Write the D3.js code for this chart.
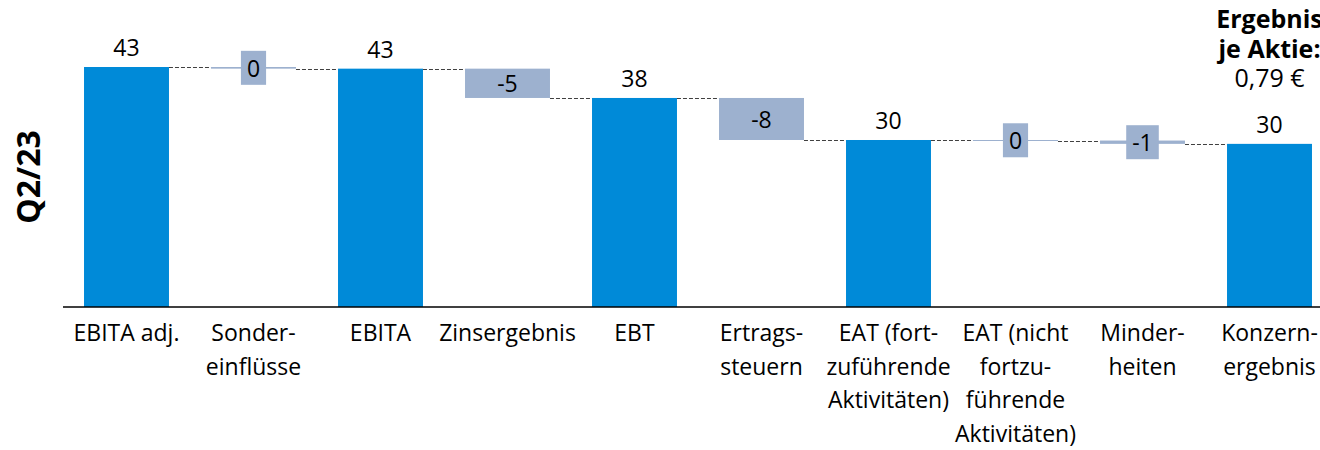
<!DOCTYPE html>
<html>
<head>
<meta charset="utf-8">
<script src="https://cdn.jsdelivr.net/npm/d3@7/dist/d3.min.js"></script>
<style>
  html, body { margin: 0; padding: 0; background: #fff; }
  svg { display: block; }
  text { font-family: "Open Sans", "Noto Sans", sans-serif; fill: #000; }
</style>
</head>
<body>
<svg id="chart" width="1320" height="450"></svg>
<script>
// ---- data ----
const categories = ["EBITA adj.", "Sondereinflüsse", "EBITA", "Zinsergebnis", "EBT",
  "Ertragssteuern", "EAT fortzuführend", "EAT nicht fortzuführend", "Minderheiten", "Konzernergebnis"];
const tickLabels = [
  ["EBITA adj."],
  ["Sonder-", "einflüsse"],
  ["EBITA"],
  ["Zinsergebnis"],
  ["EBT"],
  ["Ertrags-", "steuern"],
  ["EAT (fort-", "zuführende", "Aktivitäten)"],
  ["EAT (nicht", "fortzu-", "führende", "Aktivitäten)"],
  ["Minder-", "heiten"],
  ["Konzern-", "ergebnis"]
];
const values = [43.4, -0.3, 43.1, -5.3, 37.8, -7.6, 30.2, -0.1, -0.6, 29.5];
const kinds = ["total", "delta", "total", "delta", "total", "delta", "total", "delta", "delta", "total"];
const periodLabel = "Q2/23";
const epsLines = ["Ergebnis", "je Aktie:", "0,79 €"];

// ---- layout ----
const svg = d3.select("#chart");
const baseY = 307;
const x = d3.scaleBand().domain(categories).range([63, 1333]).paddingInner(0.331).paddingOuter(0.1655);
const y = d3.scaleLinear().domain([0, 54.25]).range([baseY, 7]);

const totalColor = "#008ad8";
const deltaColor = "#9db1cf";

// compute waterfall
let level = 0;
const bars = categories.map((c, i) => {
  const v = values[i];
  let y0, y1;
  if (kinds[i] === "total") { y0 = 0; y1 = v; level = v; }
  else { y0 = level; y1 = level + v; level = level + v; }
  return { cat: c, v, kind: kinds[i], lo: Math.min(y0, y1), hi: Math.max(y0, y1), end: level };
});

// connectors
const conn = svg.append("g");
bars.forEach((b, i) => {
  if (i === bars.length - 1) return;
  const n = bars[i + 1];
  const yy = Math.round(y(b.end)) + 0.5;
  conn.append("line")
    .attr("x1", x(b.cat) + x.bandwidth())
    .attr("x2", x(n.cat))
    .attr("y1", yy).attr("y2", yy)
    .attr("stroke", "#404040").attr("stroke-width", 1)
    .attr("stroke-dasharray", "4,2");
});

// bars
svg.append("g").selectAll("rect").data(bars).join("rect")
  .attr("x", d => x(d.cat))
  .attr("width", x.bandwidth())
  .attr("y", d => y(d.hi))
  .attr("height", d => Math.max(1, y(d.lo) - y(d.hi)))
  .attr("fill", d => d.kind === "total" ? totalColor : deltaColor);

const fmt = v => { const r = Math.round(v); return (r === 0 ? "0" : String(r)); };

// value labels
const lab = svg.append("g").attr("font-size", 23);
bars.forEach(b => {
  const cx = x(b.cat) + x.bandwidth() / 2;
  if (b.kind === "total") {
    lab.append("text").attr("x", cx).attr("y", y(b.hi) - 11)
      .attr("text-anchor", "middle").text(fmt(b.v));
  } else {
    const cy = (y(b.hi) + y(b.lo)) / 2;
    const t = lab.append("text").attr("x", cx).attr("y", cy)
      .attr("text-anchor", "middle").attr("dominant-baseline", "central").text(fmt(b.v));
    const h = y(b.lo) - y(b.hi);
    if (h < 20) {
      const w = t.node().getComputedTextLength() + 12;
      lab.insert("rect", "text")
        .attr("x", cx - w / 2).attr("y", cy - 17)
        .attr("width", w).attr("height", 34)
        .attr("fill", deltaColor);
    }
  }
});

// axis line
svg.append("line").attr("x1", 63).attr("x2", 1320).attr("y1", baseY).attr("y2", baseY)
  .attr("stroke", "#000").attr("stroke-width", 1.5);

// category labels
const cl = svg.append("g").attr("font-size", 23);
categories.forEach((c, i) => {
  const t = cl.append("text").attr("x", x(c) + x.bandwidth() / 2).attr("y", 341).attr("text-anchor", "middle");
  tickLabels[i].forEach((line, j) => {
    t.append("tspan").attr("x", x(c) + x.bandwidth() / 2).attr("dy", j === 0 ? 0 : 33.5).text(line);
  });
});

// period label
svg.append("text")
  .attr("transform", "translate(27,177) rotate(-90)")
  .attr("text-anchor", "middle").attr("dominant-baseline", "central")
  .attr("font-size", 32).attr("font-weight", "bold").text(periodLabel);

// EPS note
const lastCat = categories[categories.length - 1];
const ex = x(lastCat) + x.bandwidth() / 2;
const eps = svg.append("text").attr("x", ex).attr("y", 28).attr("text-anchor", "middle").attr("font-size", 25);
epsLines.forEach((l, j) => {
  eps.append("tspan").attr("x", ex).attr("dy", j === 0 ? 0 : 29.5)
    .attr("font-weight", j < 2 ? "bold" : "normal").text(l);
});
</script>
</body>
</html>
